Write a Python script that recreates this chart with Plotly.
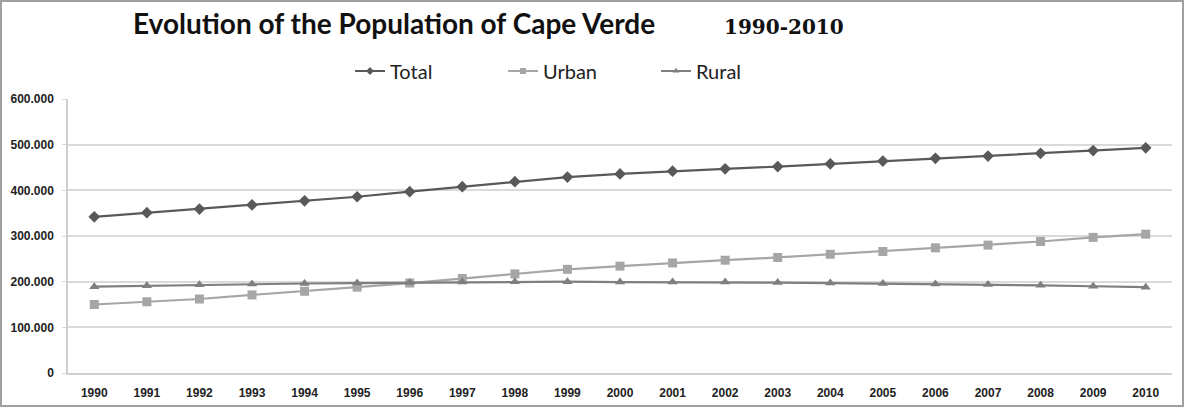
import plotly.graph_objects as go

years = list(range(1990, 2011))
total = [342, 351, 359, 368, 377, 386, 397, 408, 419, 429, 436, 442, 447, 452, 458, 464, 470, 475, 481, 487, 493]
urban = [150, 156, 162, 171, 179, 188, 197, 207, 217, 227, 234, 241, 247, 253, 260, 266, 274, 280, 288, 297, 304]
rural = [189, 191, 193, 195, 196, 197, 198, 199, 200, 200, 199, 199, 199, 198, 197, 196, 195, 194, 192, 190, 188]
total = [v * 1000 for v in total]
urban = [v * 1000 for v in urban]
rural = [v * 1000 for v in rural]

names = ["Total", "Urban", "Rural"]
colors = ["#595959", "#A6A6A6", "#7F7F7F"]
symbols = ["diamond", "square", "triangle-up"]
series = [total, urban, rural]

W, H = 1185, 408
ML, MR, MT, MB = 68, 13, 99, 35
pw = W - ML - MR
ph = H - MT - MB

fig = go.Figure()
for n, c, s, v in zip(names, colors, symbols, series):
    fig.add_trace(go.Scatter(x=years, y=v, name=n, mode="lines+markers", showlegend=False,
                             line=dict(color=c, width=2.2),
                             marker=dict(symbol=s, size=9, color=c)))
# legend-only entries with small markers (like the reference legend)
for n, c, s in zip(names, colors, symbols):
    fig.add_trace(go.Scatter(x=[None], y=[None], name=n, mode="lines+markers",
                             line=dict(color=c, width=2),
                             marker=dict(symbol=s, size=6, color=c)))

fig.add_shape(type="rect", xref="paper", yref="paper",
              x0=(1 - ML) / pw, x1=(W - 2 - ML) / pw,
              y0=-(MB - 2) / ph, y1=1 + (MT - 1) / ph,
              line=dict(color="#A0A0A0", width=2), fillcolor="rgba(0,0,0,0)", layer="below")

fig.add_annotation(text="<b>Evolution of the Population of Cape Verde</b>", xref="paper", yref="paper",
                   x=(394 - ML) / pw, y=1 + (MT - 23) / ph, showarrow=False,
                   xanchor="center", yanchor="middle",
                   font=dict(family="Lato", size=28, color="#111111"))
fig.add_annotation(text="<b>1990-2010</b>", xref="paper", yref="paper",
                   x=(784 - ML) / pw, y=1 + (MT - 27) / ph, showarrow=False,
                   xanchor="center", yanchor="middle",
                   font=dict(family="DejaVu Serif", size=20, color="#111111"))

fig.update_layout(
    width=W, height=H,
    margin=dict(l=ML, r=MR, t=MT, b=MB, pad=0, autoexpand=False),
    paper_bgcolor="white", plot_bgcolor="white",
    separators=",.",
    showlegend=True,
    legend=dict(orientation="h", x=(350 - ML) / pw, xanchor="left",
                y=1 + (MT - 71) / ph, yanchor="middle",
                entrywidth=108, entrywidthmode="pixels",
                font=dict(family="Lato", size=20, color="#222222"),
                itemwidth=30, bgcolor="rgba(0,0,0,0)"),
    xaxis=dict(range=[1989.5, 2010.5], tickvals=years, ticktext=[str(y) for y in years],
               showgrid=False, showline=True, linecolor="#D0D0D0", linewidth=1.5,
               ticks="", ticklabelstandoff=8, automargin=False,
               tickfont=dict(family="Liberation Sans", size=12, color="#222222", weight="bold"),
               zeroline=False),
    yaxis=dict(range=[0, 600000], tickvals=[0, 100000, 200000, 300000, 400000, 500000, 600000],
               tickformat=",.0f", showgrid=True, gridcolor="#DADADA", gridwidth=1.5,
               showline=True, linecolor="#D0D0D0", linewidth=1.5, zeroline=False,
               ticks="outside", ticklen=4, tickcolor="#DADADA", ticklabelstandoff=6,
               automargin=False,
               tickfont=dict(family="Liberation Sans", size=12, color="#222222", weight="bold")),
)

fig.write_html("out.html", config={"displayModeBar": False},
               post_script="document.body.style.margin='0';document.body.style.overflow='hidden';")
